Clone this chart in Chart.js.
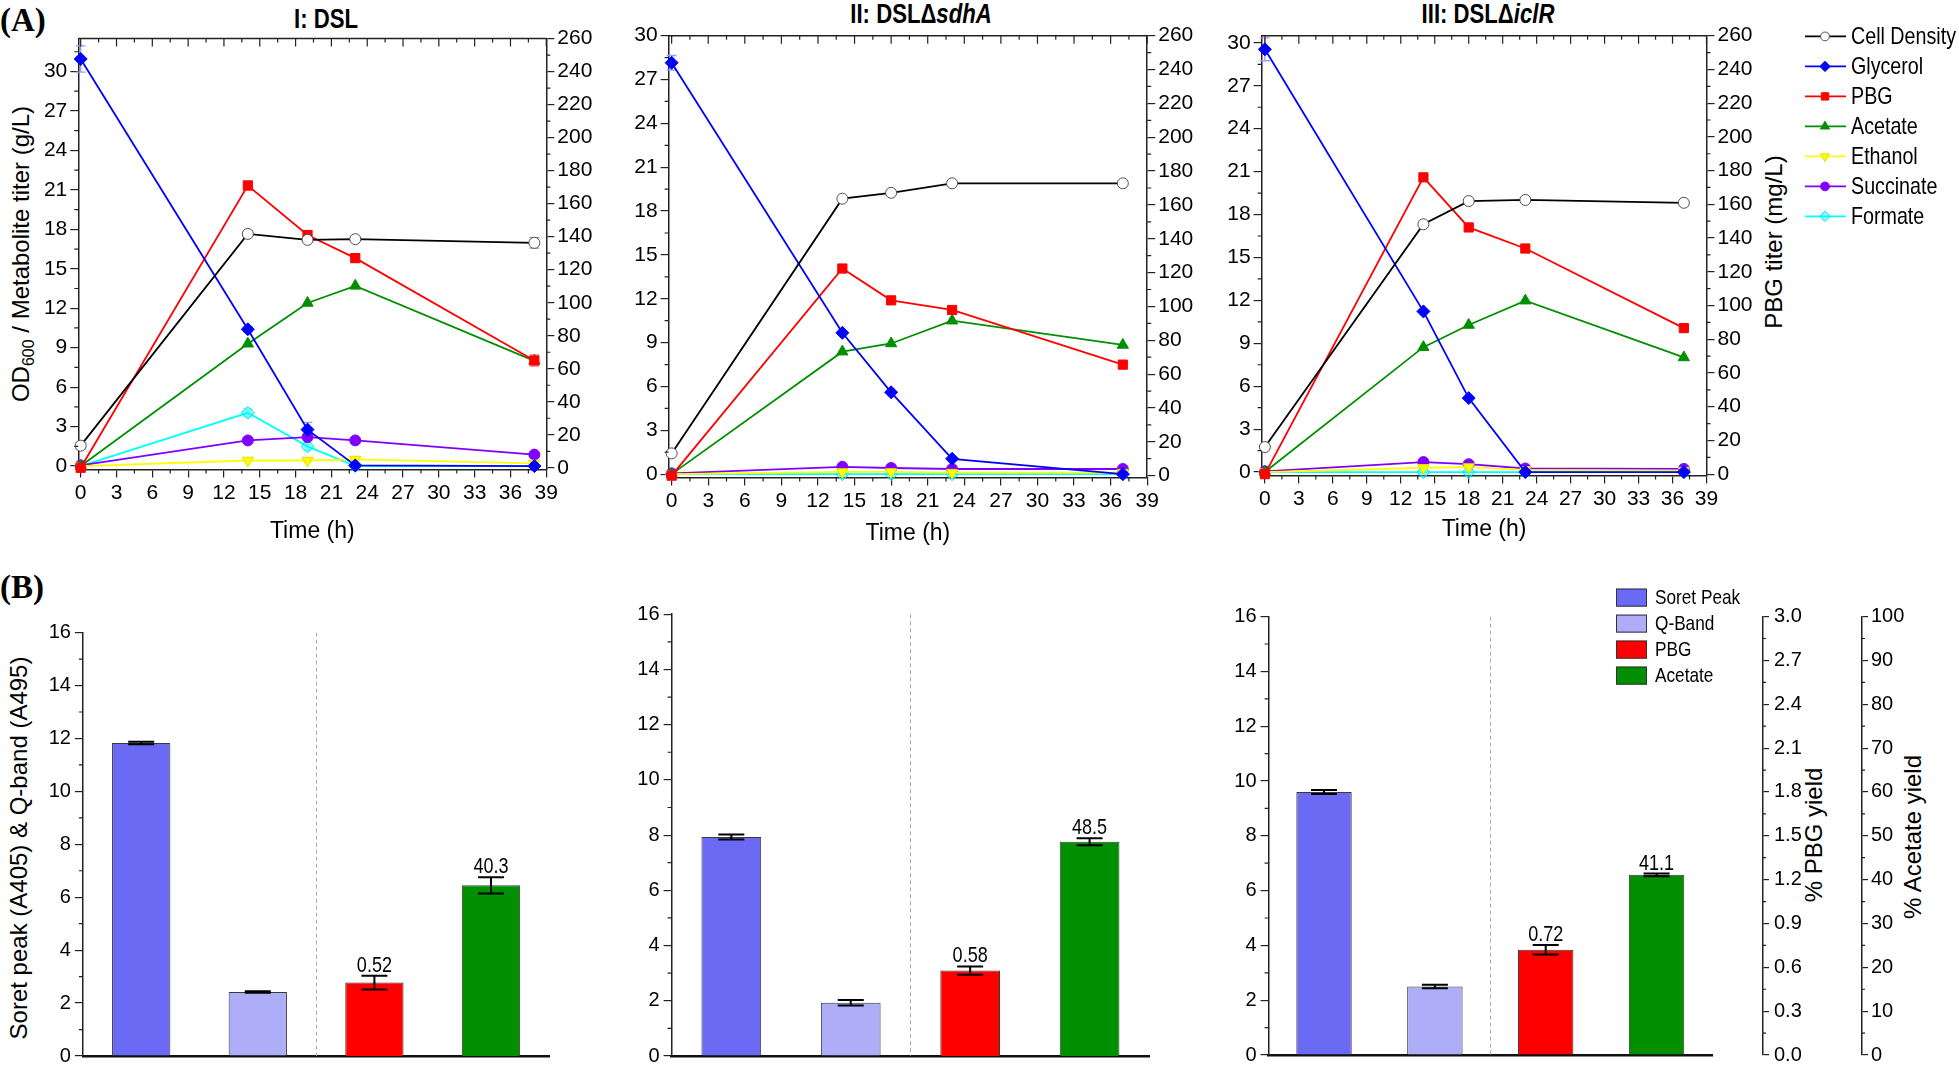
<!DOCTYPE html>
<html>
<head>
<meta charset="utf-8">
<title>PBG fermentation profiles</title>
<script src="https://cdn.jsdelivr.net/npm/chart.js@4.4.1/dist/chart.umd.min.js"></script>
<style>
  html, body { margin: 0; padding: 0; background: #fff; }
  #fig { position: relative; width: 1959px; height: 1072px; overflow: hidden; background: #fff; }
  #fig canvas { position: absolute; }
  .lbl { position: absolute; white-space: nowrap; color: #000; line-height: 1; }
  .tag { font: bold 33px "Liberation Serif", "Times New Roman", serif; }
  .ttl { font: bold 27px "Liberation Sans Narrow", "Liberation Sans", sans-serif; transform: translateX(-50%) scaleX(0.82); }
  .ax { font: 24px "Liberation Sans", Arial, sans-serif; transform: translate(-50%, -50%) rotate(-90deg); }
  .ax sub { font-size: 16px; vertical-align: -5px; line-height: 0; }
</style>
</head>
<body>
<div id="fig">
  <div class="lbl tag" style="left:0px;top:2px">(A)</div>
  <div class="lbl tag" style="left:0px;top:569px">(B)</div>
  <div class="lbl ttl" style="left:326px;top:4px">I: DSL</div>
  <div class="lbl ttl" style="left:921px;top:-1px">II: DSLΔ<i>sdhA</i></div>
  <div class="lbl ttl" style="left:1488px;top:-1px">III: DSLΔ<i>iclR</i></div>
  <div class="lbl ax" style="left:21px;top:254px">OD<sub>600</sub> / Metabolite titer (g/L)</div>
  <div class="lbl ax" style="left:1774px;top:242px">PBG titer (mg/L)</div>
  <div class="lbl ax" style="left:19px;top:848px">Soret peak (A405) &amp; Q-band (A495)</div>
  <div class="lbl ax" style="left:1814px;top:835px">% PBG yield</div>
  <div class="lbl ax" style="left:1913px;top:837px">% Acetate yield</div>
</div>
<script>
// ---------- (A) fermentation time courses ----------
const timeI = [0, 14, 19, 23, 38];
const timeII = [0, 14, 18, 23, 37];
const timeIII = [0, 14, 18, 23, 37];

// OD600 / g/L on the left axis, PBG in mg/L on the right axis
const cellDensityI = [1.55, 17.65, 17.2, 17.25, 16.97];
const glycerolI = [30.95, 10.4, 2.77, 0.05, 0];
const pbgI = [0, 171, 141, 127, 65];
const acetateI = [0, 9.3, 12.4, 13.7, 8.0];
const ethanolI = [0, 0.42, 0.42, 0.5, 0.2];
const succinateI = [0.05, 1.95, 2.2, 1.95, 0.87];
const formateI = [0, 4.05, 1.5, 0, 0];

const cellDensityII = [1.42, 18.85, 19.25, 19.9, 19.9];
const glycerolII = [28.15, 9.67, 5.6, 1.05, 0];
const pbgII = [0, 122.4, 103.6, 97.9, 65.6];
const acetateII = [0, 8.38, 8.94, 10.5, 8.84];
const ethanolII = [0, 0.15, 0.15, 0.1, 0.1];
const succinateII = [0.05, 0.5, 0.42, 0.35, 0.35];
const formateII = [0, 0, 0, 0, 0];

const cellDensityIII = [1.75, 17.32, 18.94, 19.02, 18.82];
const glycerolIII = [29.55, 11.23, 5.17, 0, 0];
const pbgIII = [0, 176, 146.3, 133.8, 86.6];
const acetateIII = [0, 8.73, 10.28, 11.98, 8.01];
const ethanolIII = [0, 0.3, 0.35, 0.15, 0.1];
const succinateIII = [0.05, 0.7, 0.55, 0.25, 0.22];
const formateIII = [0, 0, 0, 0, 0];

// error bars (SD)
const cellDensityErrI = [0.25, 0.2, 0.15, 0.15, 0.4];
const glycerolErrI = [1.0, 0.2, 0.55, 0, 0];
const pbgErrI = [0, 2.8, 2.5, 2.5, 3.5];
const formateErrI = [0, 0.3, 0.3, 0, 0];
const glycerolErrII = [0.5, 0, 0, 0, 0];
const cellDensityErrIII = [0.2, 0, 0, 0, 0];
const glycerolErrIII = [0.8, 0, 0, 0, 0];

const timeTicks = [0, 3, 6, 9, 12, 15, 18, 21, 24, 27, 30, 33, 36, 39];
const titerTicks = [0, 3, 6, 9, 12, 15, 18, 21, 24, 27, 30];
const pbgTiterTicks = [0, 20, 40, 60, 80, 100, 120, 140, 160, 180, 200, 220, 240, 260];

// ---------- (B) porphyrin absorbance and yields ----------
const barCategories = ['Soret Peak', 'Q-Band', 'PBG', 'Acetate'];
const soretPeak = [11.83, 7.93, 9.6];
const soretErr = [0.05, 0.09, 0.07];
const qBand = [2.42, 1.93, 2.5];
const qBandErr = [0.03, 0.1, 0.06];
const pbgYield = [0.52, 0.58, 0.72];
const pbgYieldErr = [0.049, 0.028, 0.033];
const acetateYield = [40.3, 48.5, 41.1];
const acetateYieldErr = [1.9, 0.78, 0.3];

const absTicks = [0, 2, 4, 6, 8, 10, 12, 14, 16];
const pbgYieldTicks = [0, 0.3, 0.6, 0.9, 1.2, 1.5, 1.8, 2.1, 2.4, 2.7, 3.0];
const acetateYieldTicks = [0, 10, 20, 30, 40, 50, 60, 70, 80, 90, 100];

// ---------- styles / layout ----------
const SANS = '"Liberation Sans", Arial, sans-serif';
const SQUEEZE = 0.82; // narrow look for the hand-drawn labels
const tickFontA = { family: SANS, size: 21 };
const tickFontB = { family: SANS, size: 20 };
const tickGrid = { display: true, drawOnChartArea: false, drawTicks: true, tickLength: 8, color: '#222', lineWidth: 1.2 };
const axisBorder = { display: true, color: '#222', width: 1.5 };

const seriesStyle = [
  { label: 'Cell Density', axis: 'y', color: '#000000', fill: '#ffffff', edge: '#505050', shape: 'circle', rot: 0, r: 5.5, errColor: '#9a9a9a' },
  { label: 'Glycerol', axis: 'y', color: '#0000ff', fill: '#0000ff', edge: '#0000ff', shape: 'rectRot', rot: 0, r: 6.5, errColor: '#9a9aff' },
  { label: 'PBG', axis: 'y2', color: '#ff0000', fill: '#ff0000', edge: '#ff0000', shape: 'rect', rot: 0, r: 6.5, errColor: '#ff9a9a' },
  { label: 'Acetate', axis: 'y', color: '#008f00', fill: '#008f00', edge: '#008f00', shape: 'triangle', rot: 0, r: 6.5, errColor: '#8fcf8f' },
  { label: 'Ethanol', axis: 'y', color: '#ffff00', fill: '#ffff00', edge: '#e0e000', shape: 'triangle', rot: 180, r: 6.5, errColor: '#ffff99' },
  { label: 'Succinate', axis: 'y', color: '#8000ff', fill: '#8000ff', edge: '#8000ff', shape: 'circle', rot: 0, r: 5.5, errColor: '#c099ff' },
  { label: 'Formate', axis: 'y', color: '#00ffff', fill: 'rgba(0,255,255,0.45)', edge: '#00e0e0', shape: 'rectRot', rot: 0, r: 6.5, errColor: '#99ffff' }
];
const barColors = ['#6a6af4', '#adadf8', '#ff0000', '#008f00'];
const barAxes = ['y', 'y', 'yPBG', 'yAc'];

const panels = [
  { times: timeI, series: [cellDensityI, glycerolI, pbgI, acetateI, ethanolI, succinateI, formateI],
    errors: [cellDensityErrI, glycerolErrI, pbgErrI, null, null, null, formateErrI] },
  { times: timeII, series: [cellDensityII, glycerolII, pbgII, acetateII, ethanolII, succinateII, formateII],
    errors: [null, glycerolErrII, null, null, null, null, null] },
  { times: timeIII, series: [cellDensityIII, glycerolIII, pbgIII, acetateIII, ethanolIII, succinateIII, formateIII],
    errors: [cellDensityErrIII, glycerolErrIII, null, null, null, null, null] }
];

// page positions: canvas box and target plot area
const lineLayout = [
  { box: { x: 20, y: 15, w: 600, h: 545 }, area: { l: 78.3, t: 38.6, r: 546.3, b: 469.6 }, xMin: -0.2, yMin: -0.27, yMax: 32.5, y2Min: -1.1, titleY: 532, rightW: 73.7 },
  { box: { x: 630, y: 15, w: 585, h: 545 }, area: { l: 668.6, t: 35.7, r: 1147.2, b: 477.5 }, xMin: -0.25, yMin: -0.23, yMax: 30, y2Min: -1.1, titleY: 534, rightW: 67.8 },
  { box: { x: 1222, y: 15, w: 737, h: 545 }, area: { l: 1261.6, t: 35.7, r: 1706.5, b: 475.5 }, xMin: -0.29, yMin: -0.24, yMax: 30.5, y2Min: -0.8, titleY: 530, rightW: 53.5 }
];
const barLayout = [
  { box: { x: 20, y: 580, w: 545, h: 492 }, area: { l: 82.9, t: 632.6, r: 549.3, b: 1059.5 } },
  { box: { x: 600, y: 580, w: 565, h: 492 }, area: { l: 671.6, t: 614.2, r: 1149.3, b: 1056 } },
  { box: { x: 1215, y: 580, w: 744, h: 492 }, area: { l: 1268.6, t: 616.6, r: 1712, b: 1056 } }
];

// ---------- helpers & plugins ----------
function addCanvas(box) {
  const c = document.createElement('canvas');
  c.width = box.w; c.height = box.h;
  c.style.left = box.x + 'px'; c.style.top = box.y + 'px';
  c.style.width = box.w + 'px'; c.style.height = box.h + 'px';
  document.getElementById('fig').appendChild(c);
  return c;
}
const fixedTicks = (arr) => (s) => { s.ticks = arr.map((v) => ({ value: v })); };
const valueOf = (d) => (d !== null && typeof d === 'object' ? d.y : d);

function narrowText(ctx, text, x, y) {
  ctx.save();
  ctx.translate(x, y);
  ctx.scale(SQUEEZE, 1);
  ctx.fillText(text, 0, 0);
  ctx.restore();
}

function drawErrorBars(chart, o) {
  const ctx = chart.ctx;
  ctx.save();
  chart.data.datasets.forEach((ds, i) => {
    if (!ds.errors) return;
    const meta = chart.getDatasetMeta(i);
    const ys = chart.scales[meta.yAxisID];
    meta.data.forEach((el, j) => {
      const err = ds.errors[j];
      const v = valueOf(ds.data[j]);
      if (!err || v == null) return;
      const x = el.x, t = ys.getPixelForValue(v + err), b = ys.getPixelForValue(v - err);
      ctx.strokeStyle = ds.errorColor || o.color || '#000';
      ctx.lineWidth = o.width;
      ctx.beginPath();
      ctx.moveTo(x, t); ctx.lineTo(x, b);
      ctx.moveTo(x - o.cap, t); ctx.lineTo(x + o.cap, t);
      ctx.moveTo(x - o.cap, b); ctx.lineTo(x + o.cap, b);
      ctx.stroke();
    });
  });
  ctx.restore();
}
const errorBars = {
  id: 'errorBars',
  beforeDatasetsDraw(chart, args, o) { if (!o.front) drawErrorBars(chart, o); },
  afterDatasetsDraw(chart, args, o) { if (o.front) drawErrorBars(chart, o); }
};

// minor ticks, plus the closed top edge of the time-course frames
const frameTicks = {
  id: 'frameTicks',
  afterDraw(chart, args, o) {
    const ctx = chart.ctx, a = chart.chartArea;
    ctx.save();
    ctx.strokeStyle = '#222';
    ctx.lineWidth = 1.2;
    ctx.beginPath();
    for (const m of o.minor || []) {
      const s = chart.scales[m.id];
      for (let i = 1; i * m.step <= s.max + 1e-9; i += 2) {
        const p = s.getPixelForValue(i * m.step);
        if (s.isHorizontal()) {
          ctx.moveTo(p, a.bottom); ctx.lineTo(p, a.bottom + m.len);
          if (o.box) { ctx.moveTo(p, a.top); ctx.lineTo(p, a.top + m.len); }
        } else if (s.position === 'left') {
          ctx.moveTo(s.right, p); ctx.lineTo(s.right - m.len, p);
        } else {
          ctx.moveTo(s.left, p); ctx.lineTo(s.left + m.len, p);
        }
      }
    }
    if (o.box) {
      const xs = chart.scales.x;
      xs.ticks.forEach((t) => {
        const p = xs.getPixelForValue(t.value);
        ctx.moveTo(p, a.top); ctx.lineTo(p, a.top + 8);
      });
    }
    ctx.stroke();
    if (o.box) {
      ctx.lineWidth = 1.5;
      ctx.beginPath();
      ctx.moveTo(a.left, a.top); ctx.lineTo(a.right, a.top);
      ctx.stroke();
    }
    ctx.restore();
  }
};

// line + marker legend for the time courses
const seriesLegend = {
  id: 'seriesLegend',
  afterDraw(chart, args, o) {
    const ctx = chart.ctx;
    ctx.save();
    ctx.font = o.size + 'px ' + SANS;
    ctx.textBaseline = 'middle';
    chart.data.datasets.forEach((ds, i) => {
      const y = o.y + i * o.pitch;
      ctx.strokeStyle = ds.borderColor;
      ctx.lineWidth = 1.8;
      ctx.beginPath(); ctx.moveTo(o.x, y); ctx.lineTo(o.x + 41, y); ctx.stroke();
      ctx.fillStyle = ds.pointBackgroundColor;
      ctx.strokeStyle = ds.pointBorderColor;
      ctx.lineWidth = 1;
      Chart.helpers.drawPoint(ctx, { pointStyle: ds.pointStyle, radius: ds.pointRadius * 0.8, rotation: ds.pointRotation, borderWidth: 1 }, o.x + 20, y);
      ctx.fillStyle = '#000';
      narrowText(ctx, ds.label, o.x + 46, y + 1);
    });
    ctx.restore();
  }
};

// filled-box legend for the bar panels
const boxLegend = {
  id: 'boxLegend',
  afterDraw(chart, args, o) {
    const ctx = chart.ctx;
    ctx.save();
    ctx.font = o.size + 'px ' + SANS;
    ctx.textBaseline = 'middle';
    chart.data.datasets.forEach((ds, i) => {
      const y = o.y + i * o.pitch;
      ctx.fillStyle = ds.backgroundColor;
      ctx.fillRect(o.x, y - 9, 31, 18);
      ctx.strokeStyle = '#333'; ctx.lineWidth = 1;
      ctx.strokeRect(o.x + 0.5, y - 8.5, 30, 17);
      ctx.fillStyle = '#000';
      narrowText(ctx, ds.label, o.x + 39, y + 1);
    });
    ctx.restore();
  }
};

const barValues = {
  id: 'barValues',
  afterDatasetsDraw(chart, args, o) {
    const ctx = chart.ctx;
    ctx.save();
    ctx.font = o.size + 'px ' + SANS;
    ctx.fillStyle = '#000';
    ctx.textAlign = 'center';
    ctx.textBaseline = 'alphabetic';
    chart.data.datasets.forEach((ds, i) => {
      if (!ds.showValue) return;
      const meta = chart.getDatasetMeta(i), ys = chart.scales[meta.yAxisID];
      ds.data.forEach((v, j) => {
        if (v == null) return;
        const top = ys.getPixelForValue(v + (ds.errors[j] || 0));
        narrowText(ctx, String(v), meta.data[j].x, top - o.gap);
      });
    });
    ctx.restore();
  }
};

// dashed line between the absorbance bars and the yield bars
const groupDivider = {
  id: 'groupDivider',
  beforeDatasetsDraw(chart) {
    const ctx = chart.ctx, a = chart.chartArea, xs = chart.scales.x;
    const x = Math.round((xs.getPixelForValue(1) + xs.getPixelForValue(2)) / 2) + 0.5;
    ctx.save();
    ctx.strokeStyle = '#aaaaaa';
    ctx.lineWidth = 1;
    ctx.setLineDash([4, 3]);
    ctx.beginPath(); ctx.moveTo(x, a.top); ctx.lineTo(x, a.bottom); ctx.stroke();
    ctx.restore();
  }
};

Chart.defaults.font.family = SANS;
Chart.defaults.color = '#000';

// ---------- charts ----------
function lineChart(k) {
  const p = panels[k], L = lineLayout[k], B = L.box, A = L.area;
  const datasets = seriesStyle.map((s, j) => ({
    label: s.label,
    data: p.times.map((t, i) => ({ x: t, y: p.series[j][i] })),
    errors: p.errors[j],
    errorColor: s.errColor,
    yAxisID: s.axis,
    borderColor: s.color,
    backgroundColor: s.fill,
    borderWidth: 1.8,
    pointStyle: s.shape,
    pointRotation: s.rot,
    pointRadius: s.r,
    pointBackgroundColor: s.fill,
    pointBorderColor: s.edge,
    pointBorderWidth: 1,
    tension: 0,
    clip: false
  }));
  return new Chart(addCanvas(B), {
    type: 'line',
    data: { datasets },
    options: {
      responsive: false,
      animation: false,
      devicePixelRatio: 1,
      events: [],
      layout: { autoPadding: false, padding: { left: 0, top: A.t - B.y, right: B.x + B.w - A.r - L.rightW, bottom: 0 } },
      plugins: {
        legend: { display: false },
        tooltip: { enabled: false },
        errorBars: { front: false, cap: 5, width: 1.4 },
        frameTicks: { box: true, minor: [{ id: 'x', step: 1.5, len: 4 }, { id: 'y', step: 1.5, len: 4 }, { id: 'y2', step: 10, len: 4 }] },
        seriesLegend: k === 2 ? { x: 1805 - B.x, y: 36.4 - B.y, pitch: 30, size: 24 } : false
      },
      scales: {
        x: {
          type: 'linear', min: L.xMin, max: 39,
          afterBuildTicks: fixedTicks(timeTicks),
          afterFit: (s) => { s.height = B.y + B.h - A.b; },
          ticks: { font: tickFontA, color: '#000', padding: 3, maxRotation: 0, autoSkip: false },
          grid: tickGrid, border: axisBorder,
          title: { display: true, text: 'Time (h)', color: '#000', font: { family: SANS, size: 23 }, padding: { top: 0, bottom: B.y + B.h - L.titleY - 13.8 } }
        },
        y: {
          position: 'left', min: L.yMin, max: L.yMax,
          afterBuildTicks: fixedTicks(titerTicks),
          afterFit: (s) => { s.width = A.l - B.x; },
          ticks: { font: tickFontA, color: '#000', padding: 3, autoSkip: false },
          grid: tickGrid, border: axisBorder
        },
        y2: {
          position: 'right', min: L.y2Min, max: 260,
          afterBuildTicks: fixedTicks(pbgTiterTicks),
          afterFit: (s) => { s.width = L.rightW; },
          ticks: { font: tickFontA, color: '#000', padding: 3, autoSkip: false },
          grid: tickGrid, border: axisBorder
        }
      }
    },
    plugins: [errorBars, frameTicks, seriesLegend]
  });
}

function gapAxis(weight, width) {
  return {
    type: 'linear', position: 'right', weight, display: true,
    ticks: { display: false }, grid: { display: false, drawTicks: false }, border: { display: false },
    afterFit: (s) => { s.width = width; }
  };
}

function barChart(k) {
  const L = barLayout[k], B = L.box, A = L.area;
  const extra = k === 2; // only the last panel shows the yield axes
  const rightW = extra ? 51 + 60 + 39 + 45 : 0;
  const vals = [soretPeak[k], qBand[k], pbgYield[k], acetateYield[k]];
  const errs = [soretErr[k], qBandErr[k], pbgYieldErr[k], acetateYieldErr[k]];
  const datasets = barCategories.map((name, j) => ({
    label: name,
    data: barCategories.map((_, m) => (m === j ? vals[j] : null)),
    errors: barCategories.map((_, m) => (m === j ? errs[j] : null)),
    yAxisID: barAxes[j],
    backgroundColor: barColors[j],
    borderColor: '#3a3a3a',
    borderWidth: 1,
    skipNull: true,
    categoryPercentage: 1,
    barPercentage: 0.5,
    showValue: j >= 2
  }));
  const scales = {
    x: {
      type: 'category',
      ticks: { display: false }, grid: { display: false },
      border: { display: true, color: '#111', width: 2.5 },
      afterFit: (s) => { s.height = B.y + B.h - A.b; }
    },
    y: {
      position: 'left', min: 0, max: 16,
      afterBuildTicks: fixedTicks(absTicks),
      afterFit: (s) => { s.width = A.l - B.x; },
      ticks: { font: tickFontB, color: '#000', padding: 4, autoSkip: false },
      grid: tickGrid, border: axisBorder
    },
    yPBG: {
      position: 'right', display: extra, weight: 2, min: 0, max: 3,
      afterBuildTicks: fixedTicks(pbgYieldTicks),
      afterFit: (s) => { if (extra) s.width = 60; },
      ticks: { font: tickFontB, color: '#000', padding: 5, autoSkip: false, callback: (v) => v.toFixed(1) },
      grid: Object.assign({}, tickGrid, { tickLength: 6 }), border: axisBorder
    },
    yAc: {
      position: 'right', display: extra, weight: 4, min: 0, max: 100,
      afterBuildTicks: fixedTicks(acetateYieldTicks),
      afterFit: (s) => { if (extra) s.width = 45; },
      ticks: { font: tickFontB, color: '#000', padding: 3, autoSkip: false },
      grid: Object.assign({}, tickGrid, { tickLength: 6 }), border: axisBorder
    }
  };
  if (extra) {
    scales.gapA = gapAxis(1, 51);
    scales.gapB = gapAxis(3, 39);
  }
  const minor = [{ id: 'y', step: 1, len: 4 }];
  if (extra) minor.push({ id: 'yPBG', step: 0.15, len: 3 }, { id: 'yAc', step: 5, len: 3 });
  return new Chart(addCanvas(B), {
    type: 'bar',
    data: { labels: barCategories, datasets },
    options: {
      responsive: false,
      animation: false,
      devicePixelRatio: 1,
      events: [],
      layout: { autoPadding: false, padding: { left: 0, top: A.t - B.y, right: B.x + B.w - A.r - rightW, bottom: 0 } },
      plugins: {
        legend: { display: false },
        tooltip: { enabled: false },
        errorBars: { front: true, cap: 13, width: 2, color: '#000' },
        barValues: { size: 22, gap: 4 },
        frameTicks: { box: false, minor },
        boxLegend: extra ? { x: 1616 - B.x, y: 597.6 - B.y, pitch: 26, size: 21 } : false
      },
      scales
    },
    plugins: [groupDivider, errorBars, barValues, frameTicks, boxLegend]
  });
}

[0, 1, 2].forEach(lineChart);
[0, 1, 2].forEach(barChart);
</script>
</body>
</html>
